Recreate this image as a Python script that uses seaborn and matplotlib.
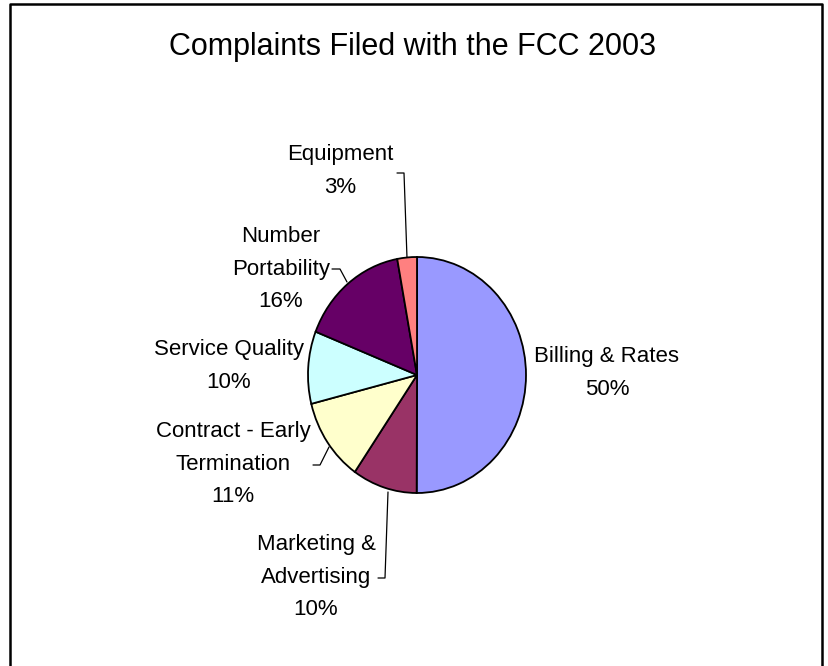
import matplotlib.pyplot as plt
import seaborn as sns

# --- data (share of complaints in %) ---
categories = ['Billing & Rates', 'Marketing &\nAdvertising', 'Contract - Early\nTermination',
              'Service Quality', 'Number\nPortability', 'Equipment']
shares = [50.0, 9.6, 11.4, 9.9, 16.1, 2.9]
colors = ['#9999FF', '#993366', '#FFFFCC', '#CCFFFF', '#660066', '#FF8080']

# label block centres and leader lines, in pixels from the top-left corner
label_pos = [(607, 373), (316, 577), (233, 464), (229, 366), (281, 269), (340, 171)]
leaders = [None,
           [(378, 578), (385, 578), (388, 492)],
           [(313, 465), (320, 465), (329, 447)],
           None,
           [(332, 269), (340, 269), (347, 282)],
           [(397, 173), (404, 173), (407, 258)]]

W, H = 829, 666

sns.set_theme(style='white')
plt.rcParams['font.family'] = ['Liberation Sans', 'DejaVu Sans']

fig = plt.figure(figsize=(W / 100, H / 100), dpi=100)

# overlay axes in pixel coordinates for the frame, title and labels
bg = fig.add_axes([0, 0, 1, 1])
bg.set_xlim(0, W)
bg.set_ylim(H, 0)
bg.axis('off')

# pie axes: the Excel pie is a slightly tall ellipse (218 x 236 px)
cx, cy, rx, ry = 417, 375, 109, 118
ax = fig.add_axes([(cx - rx) / W, (H - cy - ry) / H, 2 * rx / W, 2 * ry / H])
ax.pie(shares, colors=colors, startangle=90, counterclock=False,
       wedgeprops=dict(edgecolor='black', linewidth=1.3))
ax.set_aspect('auto')
ax.set_xlim(-1, 1)
ax.set_ylim(-1, 1)
ax.axis('off')

# chart frame (open at the bottom like the screenshot)
bg.plot([10.5, 10.5, 822, 822], [H + 5, 3.5, 3.5, H + 5], color='black', lw=1.8,
        clip_on=False)

bg.text(413, 47, 'Complaints Filed with the FCC 2003', ha='center', va='center',
        fontsize=22, color='black')

total = sum(shares)
for name, val, (tx, ty), lead in zip(categories, shares, label_pos, leaders):
    bg.text(tx, ty, f'{name}\n{val / total * 100:.0f}%', ha='center', va='center',
            multialignment='center', fontsize=16, linespacing=1.7, color='black')
    if lead:
        xs, ys = zip(*lead)
        bg.plot(xs, ys, color='black', lw=0.9)

fig.savefig('out.png', dpi=100)
